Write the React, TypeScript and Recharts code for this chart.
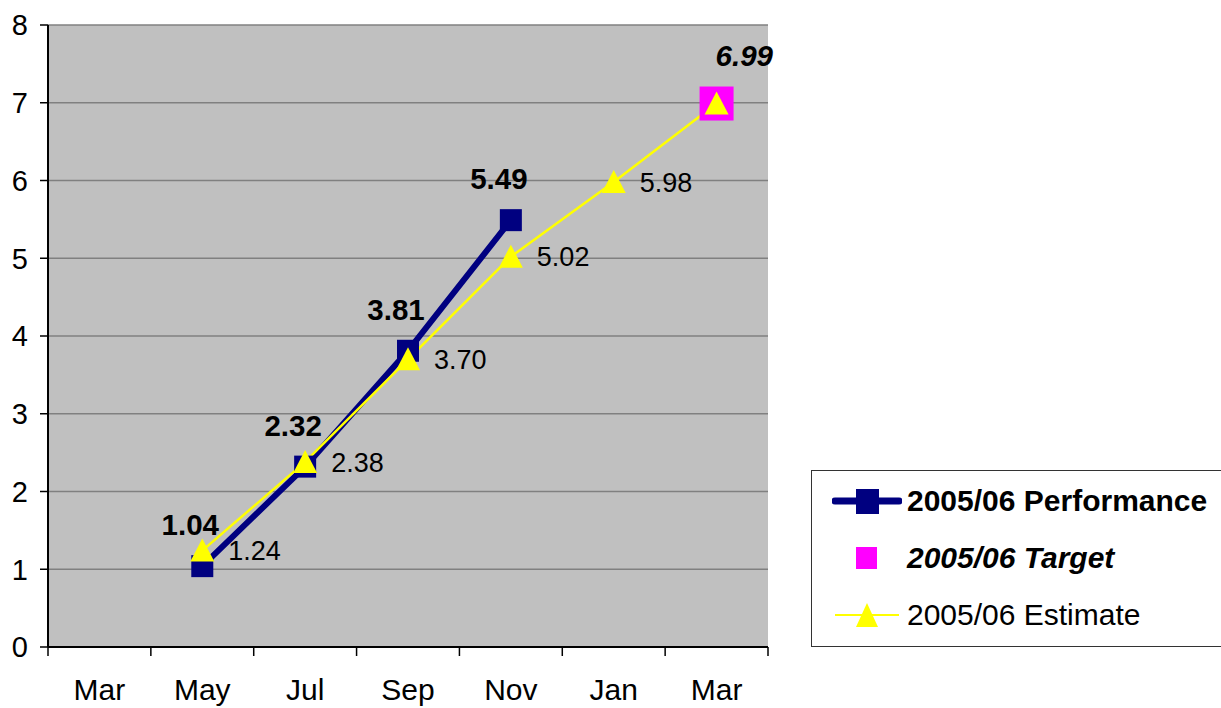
import React from "react";
import { LineChart, Line, XAxis, YAxis, CartesianGrid } from "recharts";

const months = ["Mar", "May", "Jul", "Sep", "Nov", "Jan", "Mar"];
const performance = [null, 1.04, 2.32, 3.81, 5.49, null, null];
const target = [null, null, null, null, null, null, 6.99];
const estimate = [null, 1.24, 2.38, 3.7, 5.02, 5.98, null];
const estimateLine = [null, 1.24, 2.38, 3.7, 5.02, 5.98, 6.99];
const yTicks = [0, 1, 2, 3, 4, 5, 6, 7, 8];

const FONT = "'Liberation Sans', Arial, sans-serif";
const NAVY = "#000080";
const YELLOW = "#FFFF00";
const MAGENTA = "#FF00FF";
const PLOT_W = 720;
const BAND = PLOT_W / months.length;

const rows = months.map((m, i) => ({
  month: m,
  performance: performance[i],
  target: target[i],
  estimate: estimateLine[i],
}));

function MonthTick(props: any) {
  const { x, y, payload, index } = props;
  const last = index === months.length - 1;
  return (
    <g>
      <line x1={x - BAND / 2} y1={y} x2={x - BAND / 2} y2={y + 9} stroke="#000" strokeWidth={1.5} />
      {last && <line x1={x + BAND / 2} y1={y} x2={x + BAND / 2} y2={y + 9} stroke="#000" strokeWidth={1.5} />}
      <text x={x} y={y + 53} textAnchor="middle" fontSize={30} fill="#000" fontFamily={FONT}>
        {payload.value}
      </text>
    </g>
  );
}

const squareDot = (size: number, fill: string) => (p: any) => {
  if (p.value == null || p.cy == null) return <g key={p.index} />;
  return <rect key={p.index} x={p.cx - size / 2} y={p.cy - size / 2} width={size} height={size} fill={fill} />;
};

const triangleDot = (p: any) => {
  if (p.value == null || p.cy == null) return <g key={p.index} />;
  const s = 24;
  return (
    <polygon
      key={p.index}
      points={`${p.cx},${p.cy - s / 2} ${p.cx + s / 2},${p.cy + s / 2 - 1} ${p.cx - s / 2},${p.cy + s / 2 - 1}`}
      fill={YELLOW}
    />
  );
};

const perfLabel = (p: any) => {
  if (p.value == null) return null;
  return (
    <text key={p.index} x={p.x - 12} y={p.y - 31} textAnchor="middle" fontSize={29.5} fontWeight="bold" fill="#000" fontFamily={FONT}>
      {Number(p.value).toFixed(2)}
    </text>
  );
};

const estLabel = (p: any) => {
  const v = estimate[p.index];
  if (v == null) return null;
  return (
    <text key={p.index} x={p.x + 26} y={p.y} dy="0.36em" textAnchor="start" fontSize={27} fill="#000" fontFamily={FONT}>
      {v.toFixed(2)}
    </text>
  );
};

const targetLabel = (p: any) => {
  if (p.value == null) return null;
  return (
    <text key={p.index} x={p.x - 1} y={p.y - 38} textAnchor="start" fontSize={29.5} fontWeight="bold" fontStyle="italic" fill="#000" fontFamily={FONT}>
      {Number(p.value).toFixed(2)}
    </text>
  );
};

function ChartLegend() {
  const row: React.CSSProperties = { display: "flex", alignItems: "center", height: 57 };
  const txt: React.CSSProperties = { fontSize: 30, color: "#000", marginLeft: 5, whiteSpace: "nowrap" };
  return (
    <div
      style={{
        position: "absolute",
        left: 811,
        top: 470,
        width: 410,
        height: 177,
        border: "1.5px solid #333",
        borderRight: "none",
        background: "#fff",
        boxSizing: "border-box",
        paddingTop: 1,
        paddingLeft: 20,
        fontFamily: FONT,
      }}
    >
      <div style={row}>
        <svg width={70} height={30}>
          <line x1={3} y1={15} x2={67} y2={15} stroke={NAVY} strokeWidth={7} strokeLinecap="round" />
          <rect x={24} y={3} width={23} height={25} fill={NAVY} />
        </svg>
        <span style={{ ...txt, fontWeight: "bold" }}>2005/06 Performance</span>
      </div>
      <div style={row}>
        <svg width={70} height={30}>
          <rect x={24} y={4} width={21} height={22} fill={MAGENTA} />
        </svg>
        <span style={{ ...txt, fontWeight: "bold", fontStyle: "italic" }}>2005/06 Target</span>
      </div>
      <div style={row}>
        <svg width={70} height={30}>
          <line x1={3} y1={15} x2={67} y2={15} stroke={YELLOW} strokeWidth={2} />
          <polygon points="35,3 46,27 24,27" fill={YELLOW} />
        </svg>
        <span style={txt}>2005/06 Estimate</span>
      </div>
    </div>
  );
}

export default function App() {
  return (
    <div style={{ position: "fixed", left: 0, top: 0, width: 1221, height: 708, background: "#fff", fontFamily: FONT }}>
      <LineChart width={1221} height={708} data={rows} margin={{ top: 25, right: 453, bottom: 0, left: 0 }}>
        <CartesianGrid fill="#C0C0C0" stroke="#808080" strokeWidth={1.5} vertical={false} />
        <XAxis
          dataKey="month"
          height={61}
          interval={0}
          padding={{ left: BAND / 2, right: BAND / 2 }}
          tickLine={false}
          tickSize={0}
          tickMargin={0}
          axisLine={{ stroke: "#000", strokeWidth: 2 }}
          tick={<MonthTick />}
        />
        <YAxis
          domain={[0, 8]}
          ticks={yTicks}
          width={48}
          tickSize={8}
          tickMargin={12}
          tickLine={{ stroke: "#000", strokeWidth: 1.5 }}
          axisLine={{ stroke: "#000", strokeWidth: 2 }}
          tick={{ fontSize: 29, fill: "#000", fontFamily: FONT }}
        />
        <YAxis yAxisId="r" orientation="right" width={0} tick={false} tickLine={false} axisLine={{ stroke: "#808080", strokeWidth: 2 }} />
        <Line
          dataKey="target"
          stroke="none"
          dot={squareDot(34, MAGENTA)}
          label={targetLabel}
          isAnimationActive={false}
        />
        <Line
          dataKey="performance"
          stroke={NAVY}
          strokeWidth={6}
          dot={squareDot(22, NAVY)}
          label={perfLabel}
          isAnimationActive={false}
        />
        <Line
          dataKey="estimate"
          stroke={YELLOW}
          strokeWidth={2.5}
          dot={triangleDot}
          label={estLabel}
          isAnimationActive={false}
        />
      </LineChart>
      <ChartLegend />
    </div>
  );
}
